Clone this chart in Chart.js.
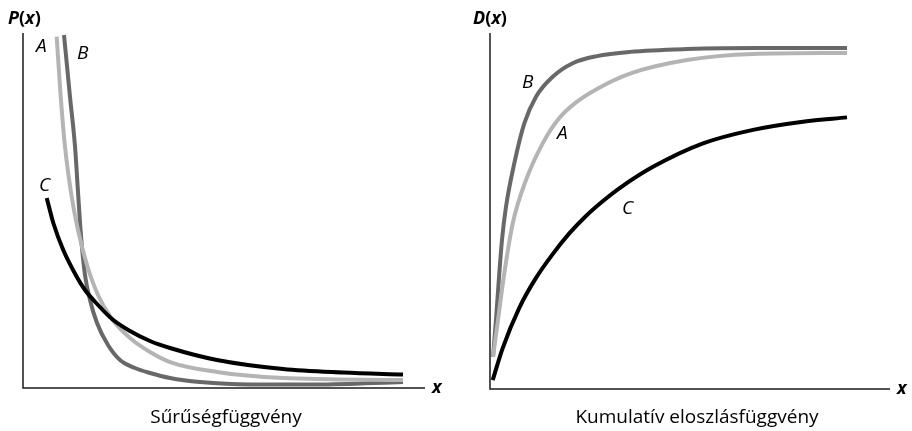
<!DOCTYPE html>
<html>
<head>
<meta charset="utf-8">
<script src="https://cdn.jsdelivr.net/npm/chart.js@4.4.0/dist/chart.umd.min.js"></script>
<style>
  html, body { margin: 0; padding: 0; background: #fff; }
  #wrap { position: relative; width: 912px; height: 431px; }
  canvas { position: absolute; top: 0; }
</style>
</head>
<body>
<div id="wrap">
  <canvas id="density" width="456" height="431" style="left:0"></canvas>
  <canvas id="cumulative" width="456" height="431" style="left:456px"></canvas>
</div>
<script>
// Sűrűségfüggvény (x: 0..10, P: 0..10)
const pdfA_x = [0.838, 0.938, 1.045, 1.211, 1.368, 1.592, 1.866, 2.214, 2.662, 3.159, 3.657, 4.826, 6.468, 9.453];
const pdfA_y = [9.896, 8.206, 6.797, 5.389, 4.451, 3.465, 2.620, 1.944, 1.408, 1.014, 0.732, 0.451, 0.282, 0.225];
const pdfB_x = [1.020, 1.169, 1.294, 1.376, 1.443, 1.542, 1.667, 1.841, 2.114, 2.413, 2.786, 3.159, 3.657, 4.403, 5.647, 7.313, 9.453];
const pdfB_y = [9.944, 8.206, 6.797, 5.389, 4.282, 3.183, 2.479, 1.831, 1.211, 0.789, 0.563, 0.423, 0.282, 0.169, 0.099, 0.099, 0.169];
const pdfC_x = [0.590, 0.754, 1.002, 1.336, 1.542, 1.866, 2.214, 2.662, 3.159, 3.657, 4.826, 6.468, 7.960, 9.453];
const pdfC_y = [5.352, 4.648, 3.887, 3.135, 2.761, 2.338, 1.944, 1.606, 1.324, 1.127, 0.789, 0.535, 0.437, 0.380];

// Kumulatív eloszlásfüggvény (x: 0..10, D: 0..1)
const cdfA_x = [0.075, 0.2, 0.3575, 0.5675, 0.9, 1.3175, 1.7325, 2.15, 2.675, 3.5, 4.925, 6.575, 8.925];
const cdfA_y = [0.090, 0.194, 0.325, 0.465, 0.587, 0.690, 0.761, 0.805, 0.843, 0.886, 0.924, 0.941, 0.944];
const cdfB_x = [0.075, 0.15, 0.2325, 0.3, 0.4, 0.6075, 0.8575, 1.15, 1.5675, 2.0675, 2.675, 3.5, 4.925, 6.75, 8.925];
const cdfB_y = [0.090, 0.194, 0.325, 0.419, 0.512, 0.634, 0.746, 0.821, 0.877, 0.915, 0.935, 0.947, 0.955, 0.958, 0.958];
const cdfC_x = [0.0675, 0.3175, 0.7325, 1.15, 1.5675, 1.9825, 2.4, 2.825, 3.25, 4.075, 5.325, 6.575, 7.825, 8.925];
const cdfC_y = [0.025, 0.115, 0.228, 0.312, 0.379, 0.437, 0.486, 0.528, 0.565, 0.624, 0.690, 0.728, 0.751, 0.763];

const colorA = '#b4b4b4';
const colorB = '#686868';
const colorC = '#000000';
const FONT = '"Open Sans", "Noto Sans", sans-serif';

function pts(xs, ys) {
  return xs.map((x, i) => ({ x: x, y: ys[i] }));
}

function curve(xs, ys, color) {
  return {
    data: pts(xs, ys),
    borderColor: color,
    borderWidth: 4,
    pointRadius: 0,
    showLine: true,
    fill: false,
    cubicInterpolationMode: 'monotone'
  };
}

// axis lines and all the texts
const decor = {
  id: 'decor',
  afterDraw(chart, args, opts) {
    const ctx = chart.ctx;
    const a = chart.chartArea;
    ctx.save();
    ctx.strokeStyle = '#1a1a1a';
    ctx.lineWidth = 1.5;
    ctx.beginPath();
    ctx.moveTo(a.left, a.top);
    ctx.lineTo(a.left, a.bottom);
    ctx.lineTo(a.right, a.bottom);
    ctx.stroke();

    ctx.fillStyle = '#000';
    ctx.textBaseline = 'alphabetic';
    // y axis title, mixed style
    let x = opts.yTitle.x;
    opts.yTitle.parts.forEach(p => {
      ctx.font = p[1] + ' bold 18px ' + FONT;
      ctx.fillText(p[0], x, opts.yTitle.y);
      x += ctx.measureText(p[0]).width;
    });
    // x axis label
    ctx.font = 'italic bold 18px ' + FONT;
    ctx.fillText('x', a.right + 7, a.bottom + 5);
    // curve labels
    ctx.font = 'italic 19px ' + FONT;
    opts.labels.forEach(l => ctx.fillText(l[0], l[1], l[2]));
    // panel title
    ctx.font = '19px ' + FONT;
    ctx.textAlign = 'center';
    ctx.fillText(opts.title, opts.titleX, 423);
    ctx.restore();
  }
};

function makeChart(id, datasets, yMax, padding, deco) {
  return new Chart(document.getElementById(id), {
    type: 'scatter',
    data: { datasets: datasets },
    options: {
      responsive: false,
      animation: false,
      layout: { padding: padding },
      scales: {
        x: { type: 'linear', display: false, min: 0, max: 10 },
        y: { type: 'linear', display: false, min: 0, max: yMax }
      },
      plugins: {
        legend: { display: false },
        tooltip: { enabled: false },
        decor: deco
      }
    },
    plugins: [decor]
  });
}

makeChart('density', [
  curve(pdfC_x, pdfC_y, colorC),
  curve(pdfA_x, pdfA_y, colorA),
  curve(pdfB_x, pdfB_y, colorB)
], 10, { left: 23, top: 33, right: 31, bottom: 43 }, {
  yTitle: { x: 8, y: 24, parts: [['P', 'italic'], ['(', 'normal'], ['x', 'italic'], [')', 'normal']] },
  labels: [['A', 36, 52], ['B', 77, 59], ['C', 39, 191]],
  title: 'Sűrűségfüggvény',
  titleX: 226
});

makeChart('cumulative', [
  curve(cdfC_x, cdfC_y, colorC),
  curve(cdfA_x, cdfA_y, colorA),
  curve(cdfB_x, cdfB_y, colorB)
], 1, { left: 34, top: 33, right: 22, bottom: 42 }, {
  yTitle: { x: 17, y: 24, parts: [['D', 'italic'], ['(', 'normal'], ['x', 'italic'], [')', 'normal']] },
  labels: [['B', 66, 88], ['A', 101, 139], ['C', 166, 214]],
  title: 'Kumulatív eloszlásfüggvény',
  titleX: 241
});
</script>
</body>
</html>
